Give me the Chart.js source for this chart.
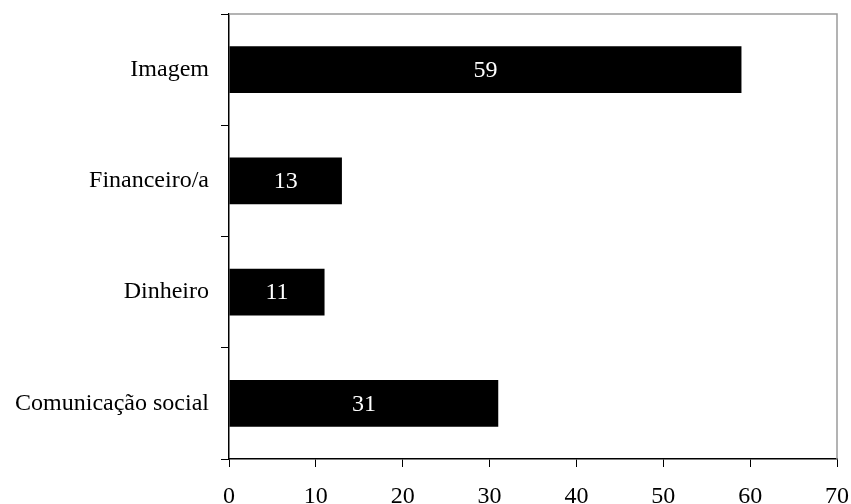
<!DOCTYPE html>
<html>
<head>
<meta charset="utf-8">
<script src="https://cdn.jsdelivr.net/npm/chart.js@4/dist/chart.umd.min.js"></script>
<style>
  html, body { margin: 0; padding: 0; background: #fff; }
  #wrap { width: 851px; height: 504px; }
</style>
</head>
<body>
<div id="wrap"><canvas id="c" width="851" height="504"></canvas></div>
<script>
// Categories (top to bottom) and their counts
const categories = ["Imagem", "Financeiro/a", "Dinheiro", "Comunicação social"];
const values = [59, 13, 11, 31];
// Value axis ticks
const xMin = 0;
const xMax = 70;
const xStep = 10;

const FONT = "'Liberation Serif', 'Times New Roman', serif";
const FONT_SIZE = 24;

// Thin grey frame on the top and right of the plot area
const framePlugin = {
  id: 'frame',
  afterDraw(chart) {
    const { ctx, chartArea: a } = chart;
    ctx.save();
    ctx.strokeStyle = '#9a9a9a';
    ctx.lineWidth = 1.5;
    ctx.beginPath();
    ctx.moveTo(a.left, a.top);
    ctx.lineTo(a.right, a.top);
    ctx.lineTo(a.right, a.bottom);
    ctx.stroke();
    ctx.restore();
  }
};

// White value labels centred inside each bar
const barLabels = {
  id: 'barLabels',
  afterDatasetsDraw(chart) {
    const { ctx } = chart;
    const meta = chart.getDatasetMeta(0);
    ctx.save();
    ctx.fillStyle = '#fff';
    ctx.font = FONT_SIZE + 'px ' + FONT;
    ctx.textAlign = 'center';
    ctx.textBaseline = 'middle';
    meta.data.forEach((bar, i) => {
      const p = bar.getProps(['x', 'y', 'base'], true);
      ctx.fillText(String(values[i]), (p.x + p.base) / 2, p.y + 1);
    });
    ctx.restore();
  }
};

new Chart(document.getElementById('c'), {
  type: 'bar',
  data: {
    labels: categories,
    datasets: [{
      data: values,
      backgroundColor: '#000',
      borderWidth: 0,
      barPercentage: 0.42,
      categoryPercentage: 1
    }]
  },
  options: {
    indexAxis: 'y',
    responsive: false,
    animation: false,
    layout: { padding: { left: 0, right: 14, top: 14, bottom: 0 } },
    plugins: { legend: { display: false }, tooltip: { enabled: false } },
    scales: {
      x: {
        min: xMin,
        max: xMax,
        ticks: {
          stepSize: xStep,
          color: '#000',
          font: { family: FONT, size: FONT_SIZE },
          padding: 15,
          maxRotation: 0
        },
        grid: {
          drawOnChartArea: false,
          drawTicks: true,
          tickLength: 8,
          tickColor: '#000',
          tickWidth: 1
        },
        border: { color: '#000', width: 1.5 },
        afterFit(scale) {
          scale.height = 45;
          scale.paddingLeft = 0;
          scale.paddingRight = 0;
        }
      },
      y: {
        ticks: {
          color: '#000',
          font: { family: FONT, size: FONT_SIZE },
          padding: 12
        },
        grid: {
          offset: true,
          drawOnChartArea: false,
          drawTicks: true,
          tickLength: 8,
          tickColor: '#000',
          tickWidth: 1
        },
        border: { color: '#000', width: 1.5 },
        afterFit(scale) {
          scale.width = 229;
          scale.paddingTop = 0;
          scale.paddingBottom = 0;
        }
      }
    }
  },
  plugins: [framePlugin, barLabels]
});
</script>
</body>
</html>
